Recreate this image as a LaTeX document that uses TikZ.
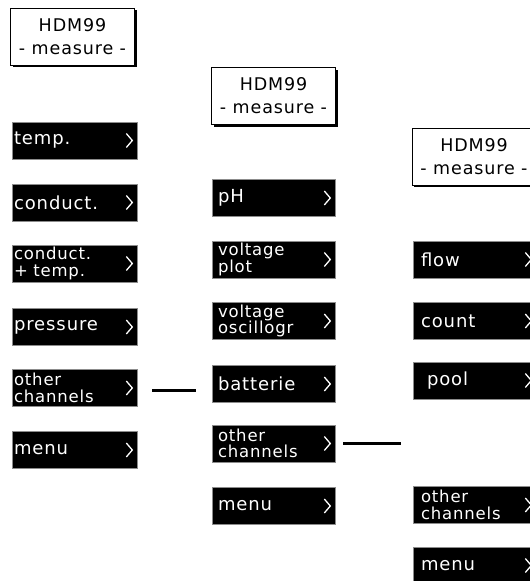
\documentclass[tikz,border=0pt]{standalone}
\usepackage{fontspec}
\setmainfont{DejaVu Sans}[LetterSpace=5]
\usetikzlibrary{shadows,calc}
\newcommand\mychev[1]{\draw[chev] ($(#1.east)+(-11,-7)$) -- ++(6,7) -- ++(-6,7);}
\begin{document}
\begin{tikzpicture}[x=1pt,y=-1pt,
 hdr/.style={draw=black, line width=1pt, fill=white, minimum width=124pt, minimum height=57pt,
   align=center, inner sep=0pt, font=\fontsize{17.5}{23}\selectfont,
   drop shadow={shadow xshift=2pt, shadow yshift=-2pt, fill=black, opacity=1}},
 blk/.style={fill=black, draw=black!45, line width=0.6pt, text=white, minimum height=37pt,
   align=left, inner xsep=0pt, inner ysep=0pt, font=\fontsize{18}{14}\selectfont},
 two/.style={font=\fontsize{16.5}{16.5}\selectfont},
 ca/.style={blk, minimum width=125pt, text width=121pt},
 cb/.style={blk, minimum width=123pt, text width=111pt},
 cc/.style={blk, minimum width=123pt, text width=107pt},
 chev/.style={white, line width=1.3pt},
 link/.style={line width=3pt}
]
\clip (0,0) rectangle (530,581);
\fill[white] (0,0) rectangle (530,581);
% column 1
\node[hdr] (h1) at (72.5,36.5) {HDM99\\- measure -};
\node[ca] (a1) at (74.5,140.5) {temp.};
\node[ca] (a2) at (74.5,202.5) {conduct.};
\node[ca,two] (a3) at (74.5,263.5) {conduct.\\+ temp.};
\node[ca] (a4) at (74.5,327) {pressure};
\node[ca,two] (a5) at (74.5,388) {other\\channels};
\node[ca] (a6) at (74.5,450) {menu};
% column 2
\node[hdr] (h2) at (273.5,96) {HDM99\\- measure -};
\node[cb] (b1) at (273.5,198) {pH};
\node[cb,two] (b2) at (273.5,259.5) {voltage\\plot};
\node[cb,two] (b3) at (273.5,321) {voltage\\oscillogr};
\node[cb] (b4) at (273.5,384) {batterie};
\node[cb,two] (b5) at (273.5,443.5) {other\\channels};
\node[cb] (b6) at (273.5,506) {menu};
% column 3
\node[hdr] (h3) at (474,156.5) {HDM99\\- measure -};
\node[cc] (c1) at (474.5,259.5) {flow};
\node[cc] (c2) at (474.5,321) {count};
\node[cc] (c3) at (474.5,380.5) {\hspace{6pt}pool};
\node[cc,two] (c4) at (474.5,505) {other\\channels};
\node[cc] (c5) at (474.5,565.5) {menu};
% chevrons
\foreach \n in {a1,a2,a3,a4,a5,a6,b1,b2,b3,b4,b5,b6,c1,c2,c3,c4,c5} {\mychev{\n}}
% links
\draw[link, shorten <=15pt, shorten >=16pt] ($(a5.east)+(0,2)$) -- ($(a5.east -| b4.west)+(0,2)$);
\draw[link, shorten <=8pt, shorten >=12pt] (b5.east) -- (b5.east -| c4.west);
\end{tikzpicture}
\end{document}
